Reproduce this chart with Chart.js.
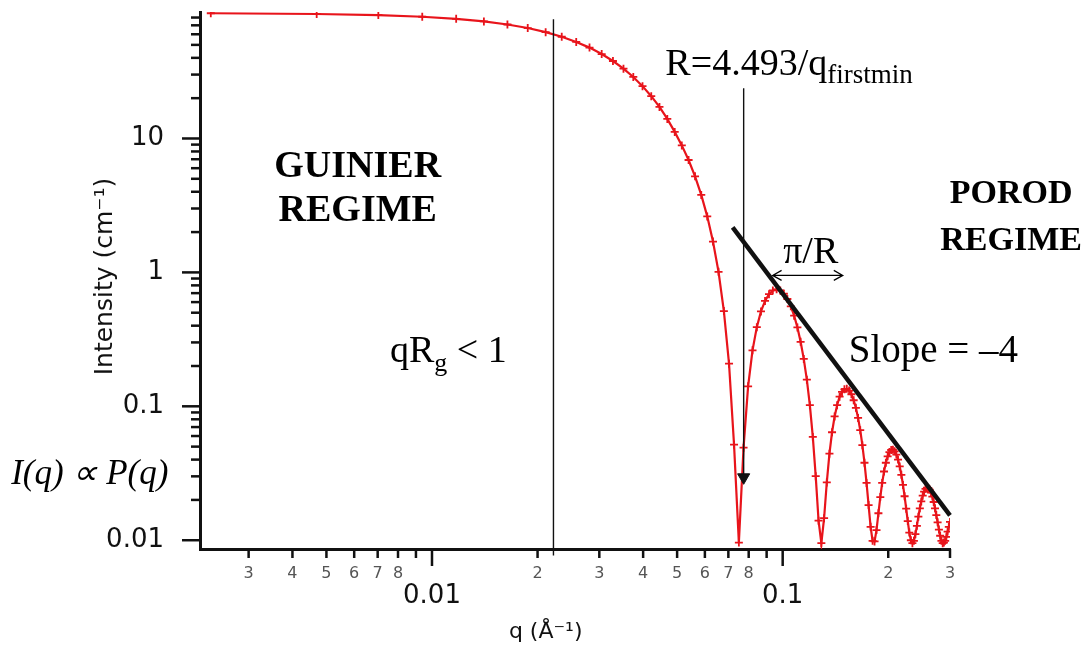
<!DOCTYPE html>
<html lang="en">
<head>
<meta charset="UTF-8">
<title>Sphere form factor - Guinier / Porod</title>
<script src="https://cdn.jsdelivr.net/npm/chart.js@4.4.1/dist/chart.umd.min.js"></script>
<style>
    html, body { margin: 0; padding: 0; background: #ffffff; }
    #chartBox { width: 1082px; height: 650px; }
</style>
</head>
<body>
<div id="chartBox"><canvas id="mainChart" width="1082" height="650"></canvas></div>
<script>
/* =========================
   CHART DATA
========================= */
const qValues = [
    0.00234, 0.00469, 0.00703, 0.00938, 0.01172, 0.01406, 0.01641, 0.01875, 0.02109, 0.02344,
    0.02578, 0.02813, 0.03047, 0.03281, 0.03516, 0.03750, 0.03984, 0.04219, 0.04453, 0.04688,
    0.04922, 0.05156, 0.05391, 0.05625, 0.05859, 0.06094, 0.06328, 0.06563, 0.06797, 0.07031,
    0.07266, 0.07500, 0.07734, 0.07969, 0.08203, 0.08438, 0.08672, 0.08906, 0.09141, 0.09375,
    0.09609, 0.09844, 0.10078, 0.10313, 0.10547, 0.10781, 0.11016, 0.11250, 0.11484, 0.11719,
    0.11953, 0.12188, 0.12422, 0.12656, 0.12891, 0.13125, 0.13359, 0.13594, 0.13828, 0.14063,
    0.14297, 0.14531, 0.14766, 0.15000, 0.15234, 0.15469, 0.15703, 0.15938, 0.16172, 0.16406,
    0.16641, 0.16875, 0.17109, 0.17344, 0.17578, 0.17813, 0.18047, 0.18281, 0.18516, 0.18750,
    0.18984, 0.19219, 0.19453, 0.19688, 0.19922, 0.20156, 0.20391, 0.20625, 0.20859, 0.21094,
    0.21328, 0.21563, 0.21797, 0.22031, 0.22266, 0.22500, 0.22734, 0.22969, 0.23203, 0.23438,
    0.23672, 0.23906, 0.24141, 0.24375, 0.24609, 0.24844, 0.25078, 0.25313, 0.25547, 0.25781,
    0.26016, 0.26250, 0.26484, 0.26719, 0.26953, 0.27188, 0.27422, 0.27656, 0.27891, 0.28125,
    0.28359, 0.28594, 0.28828, 0.29063, 0.29297, 0.29531, 0.29766, 0.30000
];

const intensityValues = [
    86.1, 85.0, 83.4, 81.1, 78.2, 74.8, 71.0, 66.8, 62.2, 57.5,
    52.6, 47.7, 42.7, 37.9, 33.2, 28.8, 24.6, 20.7, 17.2, 14.0,
    11.2, 8.88, 6.91, 5.22, 3.79, 2.62, 1.70, 1.01, 0.514, 0.208,
    0.0517, 0.0096, 0.0491, 0.141, 0.262, 0.390, 0.511, 0.612, 0.688, 0.733,
    0.747, 0.733, 0.693, 0.633, 0.558, 0.475, 0.388, 0.303, 0.226, 0.158,
    0.102, 0.0591, 0.0301, 0.0140, 0.0095, 0.0146, 0.0270, 0.0443, 0.0640, 0.0840,
    0.102, 0.118, 0.128, 0.134, 0.135, 0.131, 0.123, 0.111, 0.0974, 0.0819,
    0.0663, 0.0513, 0.0379, 0.0268, 0.0183, 0.0126, 0.0099, 0.0098, 0.0119, 0.0159,
    0.0210, 0.0268, 0.0326, 0.0379, 0.0423, 0.0455, 0.0472, 0.0474, 0.0461, 0.0436,
    0.0400, 0.0356, 0.0308, 0.0259, 0.0213, 0.0172, 0.0139, 0.0114, 0.0100, 0.0095,
    0.0099, 0.0111, 0.0128, 0.0150, 0.0173, 0.0195, 0.0215, 0.0231, 0.0242, 0.0247,
    0.0246, 0.0239, 0.0227, 0.0212, 0.0193, 0.0173, 0.0154, 0.0136, 0.0120, 0.0108,
    0.0099, 0.0095, 0.0096, 0.0099, 0.0106, 0.0116, 0.0126, 0.0137
];

/* AXIS RANGES AND TICKS */
const xRange = [0.00218, 0.3];
const yRange = [0.0086, 88];

const xTickValues = [
    0.003, 0.004, 0.005, 0.006, 0.007, 0.008, 0.009, 0.01,
    0.02, 0.03, 0.04, 0.05, 0.06, 0.07, 0.08, 0.09, 0.1, 0.2, 0.3
];
const xTickLabels = [
    "3", "4", "5", "6", "7", "8", "", "0.01",
    "2", "3", "4", "5", "6", "7", "8", "", "0.1", "2", "3"
];
const xMajorValues = [0.01, 0.1];

const yTickValues = [
    0.01, 0.02, 0.03, 0.04, 0.05, 0.06, 0.07, 0.08, 0.09,
    0.1, 0.2, 0.3, 0.4, 0.5, 0.6, 0.7, 0.8, 0.9,
    1, 2, 3, 4, 5, 6, 7, 8, 9,
    10, 20, 30, 40, 50, 60, 70, 80
];
const yMajorValues = [0.01, 0.1, 1, 10];
const yMajorLabels = ["0.01", "0.1", "1", "10"];

/* ANNOTATION LINES (q, I) */
const guinierLineQ = [0.0222, 0.0222];
const guinierLineI = [77.6, 0.0077];
const firstMinArrowQ = [0.0774, 0.0774];
const firstMinArrowI = [23.7, 0.0295];
const porodLineQ = [0.072, 0.3];
const porodLineI = [2.17, 0.01535];
const periodArrowQ = [0.0936, 0.1484];
const periodArrowI = [0.95, 0.95];

/* =========================
   TEXT LABELS
========================= */
const SERIF = "'Liberation Serif', 'Times New Roman', serif";

const annotationTexts = [
    { q: 0.00614, i: 5.14, align: "center", parts: [{ text: "GUINIER", font: "bold 38px " + SERIF }] },
    { q: 0.00614, i: 2.41, align: "center", parts: [{ text: "REGIME", font: "bold 38px " + SERIF }] },
    { q: 0.448, i: 3.29, align: "center", parts: [{ text: "POROD", font: "bold 34px " + SERIF }] },
    { q: 0.448, i: 1.465, align: "center", parts: [{ text: "REGIME", font: "bold 34px " + SERIF }] },
    {
        q: 0.04629, i: 29.7, align: "left",
        parts: [
            { text: "R=4.493/q", font: "38px " + SERIF },
            { text: "firstmin", font: "27px " + SERIF, dy: 8 }
        ]
    },
    {
        q: 0.007586, i: 0.2134, align: "left",
        parts: [
            { text: "qR", font: "38px " + SERIF },
            { text: "g", font: "26px " + SERIF, dy: 9 },
            { text: " < 1", font: "38px " + SERIF }
        ]
    },
    { q: 0.15434, i: 0.2134, align: "left", parts: [{ text: "Slope = \u20134", font: "39px " + SERIF }] },
    { q: 0.000631, i: 0.0262, align: "left", parts: [{ text: "I(q) \u221D P(q)", font: "italic 35px " + SERIF }] },
    { q: 0.1202, i: 1.171, align: "center", parts: [{ text: "\u03C0/R", font: "38px " + SERIF }] }
];

/* =========================
   HELPERS
========================= */
function toPoints(xs, ys) {
    return xs.map((x, index) => ({ x: x, y: ys[index] }));
}

function drawRichText(ctx, parts, x, y, align) {
    let total = 0;

    parts.forEach(part => {
        ctx.font = part.font;
        total += ctx.measureText(part.text).width;
    });

    let cursor = align === "center" ? x - total / 2 : x;

    parts.forEach(part => {
        ctx.font = part.font;
        ctx.fillText(part.text, cursor, y + (part.dy || 0));
        cursor += ctx.measureText(part.text).width;
    });
}

/* =========================
   PLUGIN: IGOR STYLE TICK MARKS
========================= */
const axisTicksPlugin = {
    id: "axisTicks",
    afterDraw(chart) {
        const { ctx, scales } = chart;

        ctx.save();
        ctx.strokeStyle = "#111";
        ctx.lineWidth = 2.5;

        scales.x.ticks.forEach(tick => {
            const px = scales.x.getPixelForValue(tick.value);
            const length = tick.major ? 17 : 9;

            ctx.beginPath();
            ctx.moveTo(px, scales.x.top);
            ctx.lineTo(px, scales.x.top + length);
            ctx.stroke();
        });

        scales.y.ticks.forEach(tick => {
            const py = scales.y.getPixelForValue(tick.value);
            const length = tick.major ? 18 : 9;

            ctx.beginPath();
            ctx.moveTo(scales.y.right, py);
            ctx.lineTo(scales.y.right - length, py);
            ctx.stroke();
        });

        ctx.restore();
    }
};

/* =========================
   PLUGIN: TEXTS, TITLES, PI/R ARROW
========================= */
const annotationsPlugin = {
    id: "annotations",
    afterDraw(chart) {
        const { ctx, scales, chartArea } = chart;
        const x = scales.x;
        const y = scales.y;

        ctx.save();
        ctx.fillStyle = "#000";
        ctx.strokeStyle = "#000";
        ctx.textAlign = "left";
        ctx.textBaseline = "alphabetic";

        annotationTexts.forEach(item => {
            drawRichText(
                ctx,
                item.parts,
                x.getPixelForValue(item.q),
                y.getPixelForValue(item.i),
                item.align
            );
        });

        /* DOUBLE ARROW PI/R */
        const x1 = x.getPixelForValue(periodArrowQ[0]);
        const x2 = x.getPixelForValue(periodArrowQ[1]);
        const yy = y.getPixelForValue(periodArrowI[0]);

        ctx.lineWidth = 1.2;
        ctx.beginPath();
        ctx.moveTo(x1, yy);
        ctx.lineTo(x2, yy);
        ctx.moveTo(x1 + 9, yy - 5);
        ctx.lineTo(x1, yy);
        ctx.lineTo(x1 + 9, yy + 5);
        ctx.moveTo(x2 - 9, yy - 5);
        ctx.lineTo(x2, yy);
        ctx.lineTo(x2 - 9, yy + 5);
        ctx.stroke();

        /* AXIS TITLES */
        ctx.fillStyle = "#111";
        ctx.textAlign = "center";
        ctx.textBaseline = "middle";
        ctx.font = "22px 'DejaVu Sans', sans-serif";
        ctx.fillText("q (\u00C5\u207B\u00B9)", x.getPixelForValue(0.0211), chartArea.bottom + 83);

        ctx.translate(chartArea.left - 95, (chartArea.top + chartArea.bottom) / 2 - 4);
        ctx.rotate(-Math.PI / 2);
        ctx.font = "25px 'DejaVu Sans', sans-serif";
        ctx.fillText("Intensity (cm\u207B\u00B9)", 0, 0);

        ctx.restore();
    }
};

/* =========================
   CHART
========================= */
Chart.defaults.font.family = "'DejaVu Sans', sans-serif";

const RED = "#e8141b";
const BLACK = "#111";

const mainChart = new Chart(document.getElementById("mainChart"), {
    type: "scatter",
    data: {
        datasets: [
            {
                label: "Porod slope",
                data: toPoints(porodLineQ, porodLineI),
                showLine: true,
                borderColor: BLACK,
                borderWidth: 4.5,
                pointRadius: 0,
                clip: false,
                order: 0
            },
            {
                label: "Guinier limit",
                data: toPoints(guinierLineQ, guinierLineI),
                showLine: true,
                borderColor: BLACK,
                borderWidth: 1.4,
                pointRadius: 0,
                clip: false,
                order: 0
            },
            {
                label: "First minimum",
                data: toPoints(firstMinArrowQ, firstMinArrowI),
                showLine: true,
                borderColor: BLACK,
                borderWidth: 1.4,
                pointStyle: "triangle",
                pointRadius: [0, 7],
                pointRotation: [0, 180],
                pointBackgroundColor: BLACK,
                pointBorderColor: BLACK,
                pointBorderWidth: 1,
                clip: false,
                order: 0
            },
            {
                label: "Sphere P(q)",
                data: toPoints(qValues, intensityValues),
                showLine: true,
                borderColor: RED,
                borderWidth: 2.2,
                pointStyle: "cross",
                pointRadius: 4,
                pointBorderWidth: 1.8,
                pointBorderColor: RED,
                pointBackgroundColor: RED,
                order: 1
            }
        ]
    },
    options: {
        responsive: false,
        devicePixelRatio: 1,
        animation: false,
        layout: {
            padding: { top: 12, right: 132, bottom: 0, left: 0 }
        },
        plugins: {
            legend: { display: false },
            tooltip: { enabled: false }
        },
        scales: {
            x: {
                type: "logarithmic",
                position: "bottom",
                min: xRange[0],
                max: xRange[1],
                bounds: "data",
                grid: { display: false, drawTicks: false },
                border: { display: true, width: 3, color: BLACK },
                title: { display: false },
                afterBuildTicks: scale => {
                    scale.ticks = xTickValues.map(value => ({
                        value: value,
                        major: xMajorValues.includes(value)
                    }));
                },
                afterFit: scale => {
                    scale.height = 101;
                    scale.paddingLeft = 0;
                    scale.paddingRight = 0;
                },
                ticks: {
                    autoSkip: false,
                    maxRotation: 0,
                    minRotation: 0,
                    padding: 15,
                    color: ctx => (ctx.tick && ctx.tick.major ? "#111" : "#555"),
                    font: ctx => (ctx.tick && ctx.tick.major
                        ? { size: 26, lineHeight: 0.82 }
                        : { size: 16, lineHeight: 1.2 }),
                    callback: (value, index) => {
                        const text = xTickLabels[index];
                        return xMajorValues.includes(value) ? ["", text] : text;
                    }
                }
            },
            y: {
                type: "logarithmic",
                position: "left",
                min: yRange[0],
                max: yRange[1],
                bounds: "data",
                grid: { display: false, drawTicks: false },
                border: { display: true, width: 3, color: BLACK },
                title: { display: false },
                afterBuildTicks: scale => {
                    scale.ticks = yTickValues.map(value => ({
                        value: value,
                        major: yMajorValues.includes(value)
                    }));
                },
                afterFit: scale => {
                    scale.width = 200;
                    scale.paddingTop = 0;
                    scale.paddingBottom = 0;
                },
                ticks: {
                    autoSkip: false,
                    padding: 36,
                    color: "#111",
                    font: { size: 26 },
                    callback: value => {
                        const index = yMajorValues.indexOf(value);
                        return index >= 0 ? yMajorLabels[index] : "";
                    }
                }
            }
        }
    },
    plugins: [axisTicksPlugin, annotationsPlugin]
});
</script>
</body>
</html>
